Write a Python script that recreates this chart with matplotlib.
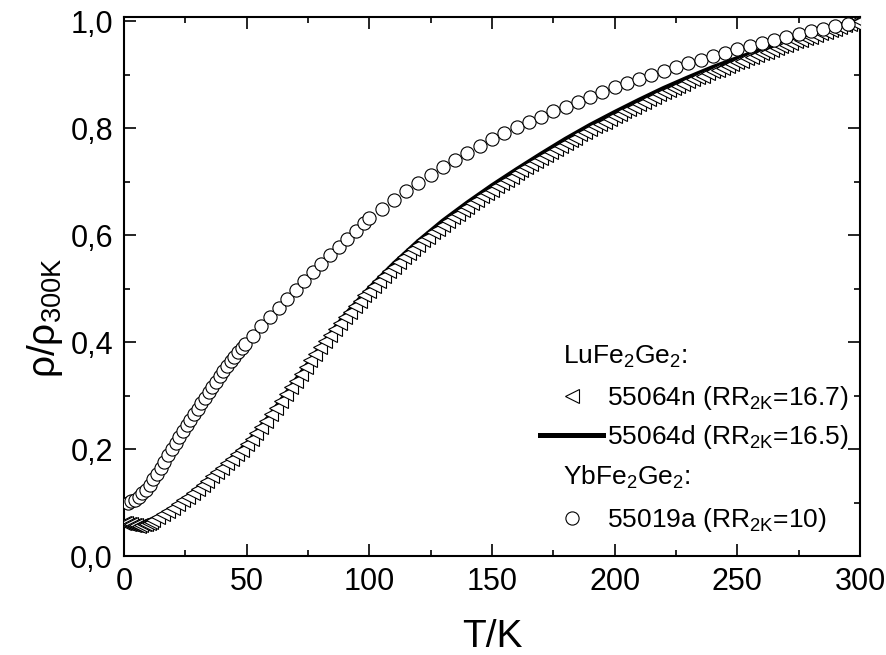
import matplotlib
matplotlib.use("Agg")
import matplotlib.pyplot as plt
from matplotlib.ticker import MultipleLocator, FixedLocator
from matplotlib.lines import Line2D

plt.rcParams['font.family'] = ['Liberation Sans', 'DejaVu Sans']
plt.rcParams['mathtext.fontset'] = 'custom'
plt.rcParams['mathtext.rm'] = 'Liberation Sans'
plt.rcParams['mathtext.it'] = 'Liberation Sans:italic'
plt.rcParams['mathtext.bf'] = 'Liberation Sans:bold'

# LuFe2Ge2, sample 55064n (triangles)
T_n = [0, 1, 2, 3, 4, 5, 6, 7, 8, 9, 10, 11, 12,
       14, 16, 18, 20, 22, 24, 26, 28, 30, 32, 34, 36, 38, 40, 42, 44, 46, 48,
       50, 52, 54, 56, 58, 60, 62, 64, 66, 68, 70, 72, 74, 76, 78, 80, 82, 84,
       86, 88, 90, 92, 94, 96, 98, 100, 102, 104, 106, 108, 110, 112, 114, 116,
       118, 120, 122, 124, 126, 128, 130, 132, 134, 136, 138, 140, 142, 144,
       146, 148, 150, 152, 154, 156, 158, 160, 162, 164, 166, 168, 170, 172,
       174, 176, 178, 180, 182, 184, 186, 188, 190, 192, 194, 196, 198, 200,
       202, 204, 206, 208, 210, 212, 214, 216, 218, 220, 222, 224, 226, 228,
       230, 232, 234, 236, 238, 240, 242, 244, 246, 248, 250, 252, 254, 256,
       258, 260, 262, 264, 266, 268, 270, 272, 274, 276, 278, 280, 282, 284,
       286, 288, 290, 292, 294, 296, 298, 300]
rho_n = [0.062, 0.061, 0.060, 0.059, 0.058, 0.058, 0.057, 0.058, 0.059, 0.060, 0.062, 0.064, 0.067,
         0.072, 0.078, 0.084, 0.090, 0.097, 0.104, 0.111, 0.118, 0.126, 0.133, 0.141, 0.149, 0.157,
         0.165, 0.173, 0.181, 0.190, 0.199, 0.209, 0.219, 0.230, 0.241, 0.253, 0.265, 0.277, 0.290,
         0.302, 0.315, 0.328, 0.341, 0.353, 0.366, 0.378, 0.390, 0.402, 0.414, 0.425, 0.436, 0.447,
         0.457, 0.467, 0.477, 0.487, 0.496, 0.505, 0.514, 0.523, 0.532, 0.541, 0.549, 0.558, 0.566,
         0.574, 0.582, 0.590, 0.597, 0.605, 0.612, 0.619, 0.626, 0.633, 0.640, 0.646, 0.653, 0.659,
         0.666, 0.672, 0.678, 0.685, 0.691, 0.697, 0.703, 0.709, 0.715, 0.721, 0.727, 0.733, 0.738,
         0.744, 0.750, 0.755, 0.761, 0.766, 0.772, 0.777, 0.782, 0.788, 0.793, 0.798, 0.803, 0.808,
         0.812, 0.817, 0.822, 0.827, 0.831, 0.836, 0.840, 0.845, 0.849, 0.854, 0.858, 0.863, 0.867,
         0.871, 0.875, 0.879, 0.883, 0.887, 0.891, 0.895, 0.898, 0.902, 0.906, 0.909, 0.913, 0.916,
         0.920, 0.923, 0.926, 0.930, 0.933, 0.937, 0.940, 0.943, 0.946, 0.950, 0.953, 0.956, 0.959,
         0.962, 0.965, 0.968, 0.971, 0.974, 0.977, 0.980, 0.983, 0.986, 0.989, 0.992, 0.994, 0.997,
         1.000]

# LuFe2Ge2, sample 55064d (thick line)
T_d = [1, 3, 5, 7, 10, 15, 20, 25, 30, 40, 50, 60, 70, 80, 90, 100, 110, 120, 130,
       140, 150, 160, 170, 180, 190, 200, 210, 220, 230, 240, 250, 260, 270, 280,
       290, 300]
rho_d = [0.061, 0.059, 0.058, 0.058, 0.062, 0.075, 0.090, 0.107, 0.126, 0.165, 0.209,
         0.265, 0.328, 0.390, 0.449, 0.500, 0.546, 0.588, 0.626, 0.660, 0.692, 0.722,
         0.751, 0.779, 0.805, 0.829, 0.852, 0.874, 0.894, 0.913, 0.930, 0.946, 0.961,
         0.975, 0.988, 1.000]

# YbFe2Ge2, sample 55019a (circles)
T_a = [1.5, 3, 4.5, 6, 7.5, 9, 10.5, 12, 13.5, 15, 16.5, 18, 19.5, 21, 22.5, 24, 25.5,
       27, 28.5, 30, 31.5, 33, 34.5, 36, 37.5, 39, 40.5, 42, 43.5, 45, 46.5, 48, 49.5,
       52.5, 56, 59.5, 63, 66.5, 70, 73.5, 77, 80.5, 84, 87.5, 91, 94.5, 98,
       100, 105, 110, 115, 120, 125, 130, 135, 140, 145, 150, 155, 160, 165, 170,
       175, 180, 185, 190, 195, 200, 205, 210, 215, 220, 225, 230, 235, 240, 245,
       250, 255, 260, 265, 270, 275, 280, 285, 290, 295]
rho_a = [0.100, 0.102, 0.105, 0.110, 0.117, 0.124, 0.133, 0.143, 0.153, 0.164, 0.176,
         0.188, 0.200, 0.211, 0.222, 0.233, 0.244, 0.254, 0.265, 0.275, 0.286, 0.296,
         0.306, 0.316, 0.326, 0.336, 0.346, 0.355, 0.364, 0.372, 0.381, 0.389, 0.397,
         0.412, 0.430, 0.447, 0.464, 0.481, 0.497, 0.514, 0.530, 0.546, 0.562, 0.577,
         0.592, 0.607, 0.622,
         0.632, 0.649, 0.666, 0.682, 0.698, 0.713, 0.727, 0.741, 0.754, 0.767, 0.779,
         0.790, 0.801, 0.811, 0.821, 0.831, 0.840, 0.849, 0.858, 0.867, 0.876, 0.884,
         0.892, 0.899, 0.907, 0.914, 0.921, 0.928, 0.934, 0.941, 0.947, 0.953, 0.959,
         0.965, 0.971, 0.976, 0.981, 0.986, 0.991, 0.995]

x_ticks = [0, 50, 100, 150, 200, 250, 300]
y_ticks = [0.0, 0.2, 0.4, 0.6, 0.8, 1.0]
y_tick_labels = ['0,0', '0,2', '0,4', '0,6', '0,8', '1,0']

lbl_n = '55064n (RR$_{\\rm 2K}$=16.7)'
lbl_d = '55064d (RR$_{\\rm 2K}$=16.5)'
lbl_a = '55019a (RR$_{\\rm 2K}$=10)'
hdr_lu = 'LuFe$_2$Ge$_2$:'
hdr_yb = 'YbFe$_2$Ge$_2$:'

tri = dict(ls='none', marker='<', ms=9.5, mfc='white', mec='black', mew=0.8)
circ = dict(ls='none', marker='o', ms=9.5, mfc='white', mec='black', mew=0.8)

fig = plt.figure(figsize=(8.86, 6.55), dpi=100)
ax = fig.add_axes([124 / 886, 99 / 655, 736 / 886, 539 / 655])

ax.plot(T_d, rho_d, color='black', lw=3.6, zorder=2)
ax.plot(T_n, rho_n, zorder=3, **tri)
ax.plot(T_a, rho_a, zorder=4, **circ)

ax.set_xlim(0, 300)
ax.set_ylim(0, 1.0075)
ax.xaxis.set_major_locator(FixedLocator(x_ticks))
ax.xaxis.set_minor_locator(MultipleLocator(25))
ax.set_yticks(y_ticks)
ax.set_yticklabels(y_tick_labels)
ax.yaxis.set_minor_locator(MultipleLocator(0.1))
ax.tick_params(which='both', direction='in', top=True, right=True, width=1.2)
ax.tick_params(which='major', length=8.5, labelsize=22, pad=8)
ax.tick_params(which='minor', length=4.5)
for s in ax.spines.values():
    s.set_linewidth(1.5)

ax.set_xlabel('T/K', fontsize=28, labelpad=16)
ax.set_ylabel('ρ/ρ$_{\\rm 300K}$', fontsize=28)
ax.yaxis.set_label_coords(-0.080, 0.4416)

h_n = Line2D([], [], **tri)
h_d = Line2D([], [], color='black', lw=3.6)
h_a = Line2D([], [], **circ)

leg1 = ax.legend([h_n, h_d], [lbl_n, lbl_d], loc='center left', bbox_to_anchor=(0.565, 0.257),
                 frameon=False, fontsize=19, borderpad=0, borderaxespad=0,
                 handlelength=2.4, handletextpad=0.15, labelspacing=0.4)
ax.add_artist(leg1)
ax.legend([h_a], [lbl_a], loc='center left', bbox_to_anchor=(0.565, 0.0668),
          frameon=False, fontsize=19, borderpad=0, borderaxespad=0,
          handlelength=2.4, handletextpad=0.15)

ax.text(0.5965, 0.3575, hdr_lu, transform=ax.transAxes, fontsize=19, va='baseline')
ax.text(0.5965, 0.1317, hdr_yb, transform=ax.transAxes, fontsize=19, va='baseline')

fig.savefig('out.png', dpi=100)
